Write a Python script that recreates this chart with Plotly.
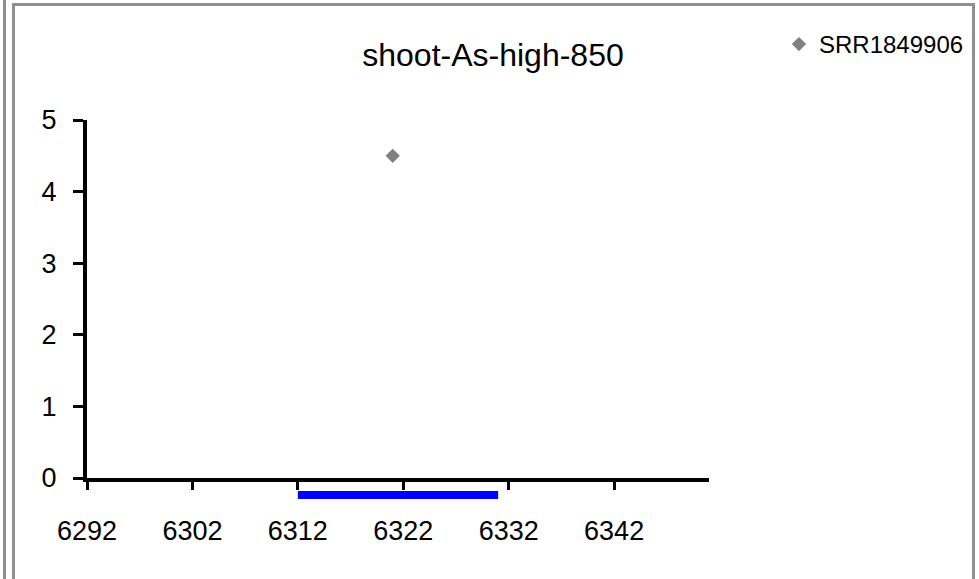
import plotly.graph_objects as go

# ---- data ----
series_name = "SRR1849906"
x_pos = [6321]
y_val = [4.5]
feature_start = [6312]
feature_end = [6331]
x_ticks = [6292, 6302, 6312, 6322, 6332, 6342]
y_ticks = [0, 1, 2, 3, 4, 5]
title_text = "shoot-As-high-850"

W, H = 979, 579
L, R, T, B = 87, 709, 120, 478  # plot area in px

def px(xp):
    return (xp - L) / (R - L)

def py(yp):
    return (B - yp) / (B - T)

fig = go.Figure()
fig.add_trace(go.Scatter(
    x=x_pos, y=y_val, mode="markers", name=series_name,
    marker=dict(symbol="diamond", size=11, color="#808080"),
    cliponaxis=False,
))

font = "Liberation Sans, Arial, sans-serif"

shapes = []
# feature bar under axis
for s, e in zip(feature_start, feature_end):
    shapes.append(dict(type="line", xref="x", yref="paper", x0=s, x1=e,
                       y0=py(495), y1=py(495), line=dict(color="#0000ff", width=8)))
# frame lines
gray = "#909090"
shapes.append(dict(type="line", xref="paper", yref="paper", x0=px(4.5), x1=px(4.5),
                   y0=py(-5), y1=py(590), line=dict(color=gray, width=3)))
shapes.append(dict(type="line", xref="paper", yref="paper", x0=px(13.5), x1=px(13.5),
                   y0=py(4), y1=py(590), line=dict(color=gray, width=3)))
shapes.append(dict(type="line", xref="paper", yref="paper", x0=px(12), x1=px(975),
                   y0=py(4.5), y1=py(4.5), line=dict(color=gray, width=3)))
shapes.append(dict(type="line", xref="paper", yref="paper", x0=px(973.5), x1=px(973.5),
                   y0=py(3), y1=py(590), line=dict(color=gray, width=3)))

fig.update_layout(
    width=W, height=H,
    margin=dict(l=L, r=W - R, t=T, b=H - B, autoexpand=False),
    paper_bgcolor="white", plot_bgcolor="white",
    font=dict(family=font, color="black"),
    title=dict(text=title_text, x=px(493), xanchor="center", xref="paper",
               y=1 - 55 / H, yanchor="middle", font=dict(size=32, color="black")),
    showlegend=True,
    legend=dict(x=px(779), y=py(22), xanchor="left", yanchor="top",
                font=dict(size=24, color="black"), itemwidth=30,
                bgcolor="rgba(0,0,0,0)"),
    xaxis=dict(range=[6292, 6351], tickvals=x_ticks, ticktext=[str(v) for v in x_ticks],
               showgrid=False, zeroline=False, showline=True, linecolor="black", linewidth=4,
               ticks="outside", ticklen=8, tickwidth=3, tickcolor="black",
               tickfont=dict(size=27, color="black"), ticklabelstandoff=18),
    yaxis=dict(range=[0, 5], tickvals=y_ticks,
               showgrid=False, zeroline=False, showline=True, linecolor="black", linewidth=4,
               ticks="outside", ticklen=10, tickwidth=3, tickcolor="black",
               tickfont=dict(size=27, color="black"), ticklabelstandoff=11),
    shapes=shapes,
)

fig.write_html("out.html")
